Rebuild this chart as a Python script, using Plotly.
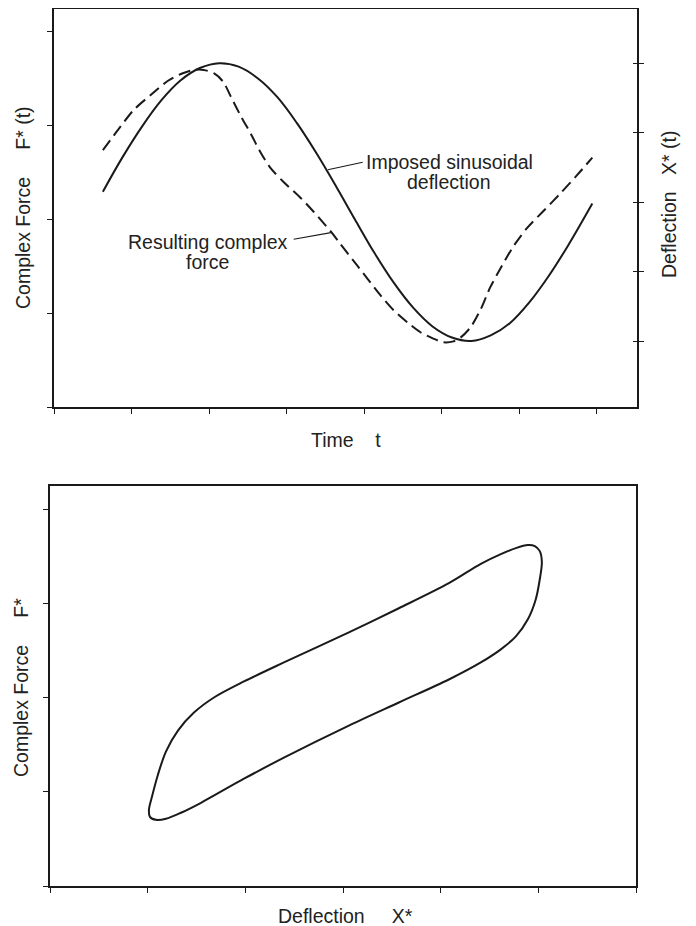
import plotly.graph_objects as go

# page body has an 8px margin: the figure is sized and placed to compensate
OFF = 8
W, H = 696 - OFF, 926 - OFF

# ---------------- data ----------------
# Top panel: time in tick units, imposed deflection X*(t) (right axis), force F*(t) (left axis)
time_ticks = [0, 1, 2, 3, 4, 5, 6, 7]
force_ticks = [0, 1, 2, 3, 4]
defl_ticks = [-2, -1, 0, 1, 2]

time_solid = [0.63, 0.88, 1.13, 1.38, 1.63, 1.88, 2.13, 2.38, 2.63, 2.88, 3.13, 3.38,
              3.63, 3.88, 4.13, 4.38, 4.63, 4.88, 5.13, 5.38, 5.63, 5.88, 6.13, 6.38,
              6.63, 6.94]
defl_solid = [0.15, 0.64, 1.08, 1.46, 1.75, 1.93, 2.00, 1.95, 1.78, 1.51, 1.14, 0.71,
              0.24, -0.25, -0.73, -1.16, -1.52, -1.79, -1.95, -2.00, -1.92, -1.74, -1.44, -1.06,
              -0.62, -0.02]

time_dash = [0.63, 0.82, 1.03, 1.25, 1.47, 1.66, 1.80, 1.93, 2.06, 2.18, 2.28, 2.41,
             2.54, 2.66, 2.79, 2.96, 3.18, 3.35, 3.57, 3.69, 3.86, 4.04, 4.21, 4.38,
             4.56, 4.72, 4.89, 5.02, 5.15, 5.24, 5.37, 5.50, 5.62, 5.75, 5.92, 6.10,
             6.31, 6.53, 6.74, 6.94]
force_dash = [2.74, 2.95, 3.17, 3.33, 3.48, 3.56, 3.595, 3.595, 3.56, 3.47, 3.31, 3.10,
              2.91, 2.72, 2.55, 2.40, 2.23, 2.08, 1.87, 1.74, 1.56, 1.37, 1.19, 1.03,
              0.90, 0.80, 0.73, 0.69, 0.70, 0.74, 0.85, 1.04, 1.27, 1.47, 1.71, 1.91,
              2.09, 2.28, 2.47, 2.66]

# Bottom panel: hysteresis loop, force F* vs deflection X*
loop_x_ticks = [0, 1, 2, 3, 4, 5, 6]
loop_y_ticks = [0, 1, 2, 3, 4]
loop_x = [1.085, 1.187, 1.341, 1.546, 1.986, 2.395, 3.060, 3.572, 4.084, 4.411, 4.616,
          4.770, 4.893, 4.974, 5.015, 5.036, 5.015, 4.964, 4.893, 4.770, 4.616, 4.411,
          4.084, 3.572, 3.060, 2.395, 1.986, 1.679, 1.474, 1.310, 1.187, 1.105, 1.044,
          1.013, 1.023, 1.085]
loop_y = [0.702, 0.713, 0.777, 0.883, 1.138, 1.362, 1.702, 1.947, 2.191, 2.372, 2.511,
          2.649, 2.830, 3.043, 3.255, 3.436, 3.553, 3.606, 3.617, 3.585, 3.521, 3.418,
          3.213, 2.947, 2.691, 2.372, 2.170, 2.000, 1.840, 1.649, 1.426, 1.181, 0.947,
          0.809, 0.734, 0.702]

# leader line anchor points (data units of top panel: time, force)
lead_imposed_t = [3.53, 3.98]
lead_imposed_f = [2.53, 2.61]
lead_result_t = [3.09, 3.57]
lead_result_f = [1.79, 1.86]

# ---------------- styling ----------------
FONT = "Liberation Sans, Arial, Helvetica, sans-serif"
INK = "#1a1a1a"
TXT = "#222222"
FS = 19.5


def px_x(p):
    return (p - OFF) / W


def px_y(p):
    return min(1.0, max(0.0, 1 - (p - OFF) / H))


fig = go.Figure()

fig.add_trace(go.Scatter(x=time_solid, y=defl_solid, mode="lines", xaxis="x", yaxis="y2",
                         line=dict(color=INK, width=2, shape="spline", smoothing=1.0),
                         hoverinfo="skip"))
fig.add_trace(go.Scatter(x=time_dash, y=force_dash, mode="lines", xaxis="x", yaxis="y",
                         line=dict(color=INK, width=2, dash="12px,6px", shape="spline", smoothing=0.8),
                         hoverinfo="skip"))
fig.add_trace(go.Scatter(x=loop_x, y=loop_y, mode="lines", xaxis="x2", yaxis="y3",
                         line=dict(color=INK, width=2, shape="spline", smoothing=0.9),
                         hoverinfo="skip"))

axis_common = dict(showgrid=False, zeroline=False, showticklabels=False,
                   showline=True, linecolor=INK, linewidth=1.6,
                   ticks="outside", ticklen=5, tickwidth=1.2, tickcolor=INK)

top_dom_x = [px_x(54), px_x(637)]
top_dom_y = [px_y(407), px_y(9)]
bot_dom_x = [px_x(50), px_x(636)]
bot_dom_y = [px_y(886), px_y(486)]

defl_range = [-2.95, 2.78]

fig.update_layout(
    width=W, height=H,
    margin=dict(l=0, r=0, t=0, b=0),
    paper_bgcolor="white", plot_bgcolor="white",
    showlegend=False,
    xaxis=dict(domain=top_dom_x, range=[0, 7.516], tickvals=time_ticks, anchor="y",
               mirror=True, **axis_common),
    yaxis=dict(domain=top_dom_y, range=[0, 4.245], tickvals=force_ticks, anchor="x",
               **axis_common),
    yaxis2=dict(range=defl_range, tickvals=defl_ticks, overlaying="y", side="right",
                anchor="x", **axis_common),
    # inner half of the right-hand ticks (they cross the frame line in the original)
    yaxis4=dict(range=defl_range, tickvals=defl_ticks, overlaying="y", side="right",
                anchor="x", showgrid=False, zeroline=False, showticklabels=False,
                showline=False, ticks="inside", ticklen=4, tickwidth=1.2, tickcolor=INK),
    xaxis2=dict(domain=bot_dom_x, range=[0, 6], tickvals=loop_x_ticks, anchor="y3",
                mirror=True, **axis_common),
    yaxis3=dict(domain=bot_dom_y, range=[0, 4.244], tickvals=loop_y_ticks, anchor="x2",
                mirror=True, **axis_common),
)

# invisible trace to activate the inner-tick axis
fig.add_trace(go.Scatter(x=[time_solid[0]], y=[defl_solid[0]], mode="lines", xaxis="x", yaxis="y4",
                         line=dict(color="rgba(0,0,0,0)"), hoverinfo="skip"))

# leader lines
fig.add_shape(type="line", xref="x", yref="y",
              x0=lead_imposed_t[0], y0=lead_imposed_f[0], x1=lead_imposed_t[1], y1=lead_imposed_f[1],
              line=dict(color=INK, width=1.1))
fig.add_shape(type="line", xref="x", yref="y",
              x0=lead_result_t[0], y0=lead_result_f[0], x1=lead_result_t[1], y1=lead_result_f[1],
              line=dict(color=INK, width=1.1))

NB = "\u00a0"


def label(text, x, y, angle=0):
    fig.add_annotation(text=text, xref="paper", yref="paper", x=px_x(x), y=px_y(y),
                       xanchor="center", yanchor="middle", showarrow=False, textangle=angle,
                       font=dict(family=FONT, size=FS, color=TXT))


# annotations inside the top panel
label("Imposed sinusoidal", 449, 162)
label("deflection", 448.5, 181.5)
label("Resulting complex", 208, 242)
label("force", 207.5, 261.5)

# axis titles
label("Complex Force" + NB * 5 + "F* (t)", 23, 208, -90)
label("Deflection" + NB * 3 + "X* (t)", 669, 205, -90)
label("Time" + NB * 4 + "t", 346, 440)
label("Complex Force" + NB * 5 + "F*", 21, 688, -90)
label("Deflection" + NB * 5 + "X*", 345, 916)

fig.write_html("out.html")
